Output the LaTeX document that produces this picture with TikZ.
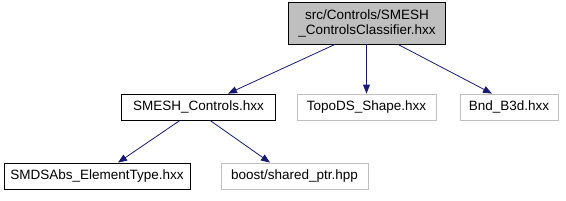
\documentclass[tikz,border=0pt]{standalone}
\usepackage{fontspec}
\setmainfont{Liberation Sans}
\usetikzlibrary{arrows.meta}
\definecolor{edgec}{HTML}{191970}
\definecolor{greyb}{HTML}{BFBFBF}
\tikzset{
  box/.style={draw=black, line width=0.8pt, inner sep=0pt, font=\fontsize{13.5}{15}\selectfont, align=center},
  extbox/.style={box, draw=greyb},
  edge/.style={draw=edgec, line width=0.8pt, -{Triangle[length=9pt,width=7pt]}}
}
\begin{document}
\begin{tikzpicture}[x=1pt,y=-1pt]
\useasboundingbox (0,0) rectangle (566,201);
\node[box, fill=greyb, minimum width=157pt, minimum height=42pt] (top) at (367,23) {src/Controls/SMESH\\\_ControlsClassifier.hxx};
\node[box, minimum width=154pt, minimum height=26pt] (ctrl) at (198.5,107) {SMESH\_Controls.hxx};
\node[extbox, minimum width=139pt, minimum height=26pt] (topo) at (366.5,107) {TopoDS\_Shape.hxx};
\node[extbox, minimum width=98pt, minimum height=26pt] (bnd) at (509,107) {Bnd\_B3d.hxx};
\node[box, minimum width=186pt, minimum height=26pt] (smds) at (97,176) {SMDSAbs\_ElementType.hxx};
\node[extbox, minimum width=147pt, minimum height=26pt] (boost) at (294.5,176) {boost/shared\_ptr.hpp};
\draw[edge] (top.south -| 335,0) -- (ctrl.north -| 228,0);
\draw[edge] (top.south -| 366.5,0) -- (topo.north);
\draw[edge] (top.south -| 398,0) -- (bnd.north -| 492,0);
\draw[edge] (ctrl.south -| 180,0) -- (smds.north -| 118,0);
\draw[edge] (ctrl.south -| 210,0) -- (boost.north -| 270,0);
\end{tikzpicture}
\end{document}
